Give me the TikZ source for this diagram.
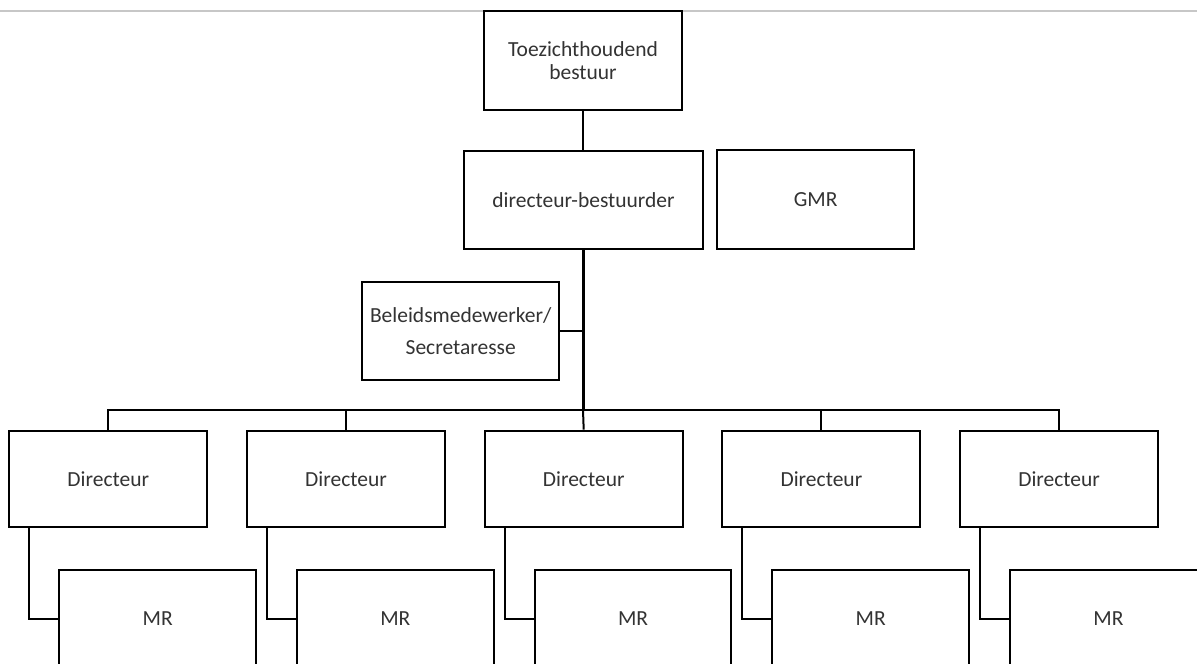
\documentclass[tikz,border=0pt]{standalone}
\usepackage{fontspec}
\setmainfont{Carlito}
\begin{document}
\begin{tikzpicture}[x=1pt,y=-1pt,
  box/.style={draw=black,line width=2pt,rectangle,inner sep=0pt,align=center,
    text=black!80,font=\fontsize{21.5}{22.3}\selectfont},
  dbox/.style={box,minimum width=198pt,minimum height=96.6pt},
  mbox/.style={box,minimum width=196.7pt,minimum height=97pt},
  conn/.style={draw=black,line width=2pt},
  trunk/.style={draw=black,line width=3pt}]
\useasboundingbox (0,0) rectangle (1197,664);
\clip (0,0) rectangle (1197,664);
\fill[white] (0,0) rectangle (1197,664);
\draw[black!22,line width=1.2pt] (0,11) -- (1197,11);

\node[box,minimum width=198pt,minimum height=99pt] (T) at (583,60.5) {Toezichthoudend\\bestuur};
\node[box,minimum width=239pt,minimum height=98.5pt] (DB) at (583.5,199.8) {directeur-bestuurder};
\node[box,minimum width=196.5pt,minimum height=98.5pt] (GMR) at (815.7,199.3) {GMR};
\node[box,minimum width=197.5pt,minimum height=98pt,
  font=\fontsize{21.5}{31.7}\selectfont] (BS) at (460.7,331) {Beleidsmedewerker/\\Secretaresse};

\foreach \i in {1,...,5}{
  \pgfmathsetmacro{\L}{9.3+237.7*(\i-1)}
  \node[dbox] (D\i) at (\L+99,479) {Directeur};
  \node[mbox] (M\i) at (\L+50+98.35,618.8) {MR};
}

\coordinate (bus) at (583,410);
\coordinate (jb) at (583,331);
\draw[conn] (T.south) -- (DB.north -| T.south);
\draw[trunk] (DB.south -| T.south) -- (bus);
\draw[conn] (BS.east) -- (jb);
\draw[conn] (D1.north) |- (bus) -| (D5.north);
\draw[conn] (bus) -| (D2.north);
\draw[conn] (bus) -- (D3.north);
\draw[conn] (bus) -| (D4.north);
\foreach \i in {1,...,5}{
  \draw[conn] ([xshift=21pt]D\i.south west) |- (M\i.west);
}
\end{tikzpicture}
\end{document}
